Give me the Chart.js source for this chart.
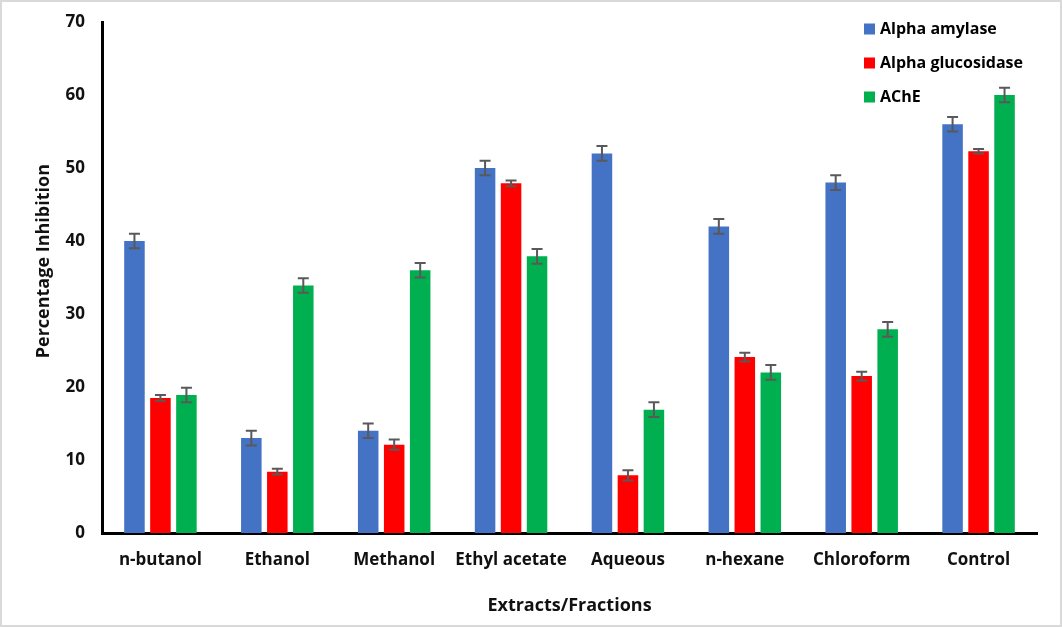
<!DOCTYPE html>
<html lang="en">
<head>
  <meta charset="UTF-8">
  <title>Percentage Inhibition</title>
  <script src="https://cdn.jsdelivr.net/npm/chart.js"></script>
  <style>
    body {
      margin: 0;
      background: #fff;
    }
    .wrap {
      position: relative;
      width: 1062px;
      height: 627px;
    }
    .frame {
      position: absolute;
      left: 0; top: 0; right: 0; bottom: 0;
      border: 2px solid #d9d9d9;
      pointer-events: none;
    }
  </style>
</head>
<body>
  <div class="wrap">
    <canvas id="chartCanvas" width="1062" height="627"></canvas>
    <div class="frame"></div>
  </div>

  <script>
    const categories = ['n-butanol', 'Ethanol', 'Methanol', 'Ethyl acetate', 'Aqueous', 'n-hexane', 'Chloroform', 'Control'];
    const seriesNames = ['Alpha amylase', 'Alpha glucosidase', 'AChE'];
    const amylase = [40, 13, 14, 50, 52, 42, 48, 56];
    const glucosidase = [18.5, 8.4, 12.1, 47.9, 7.9, 24.1, 21.5, 52.3];
    const ache = [18.9, 33.9, 36, 37.9, 16.9, 22, 27.9, 60];
    const amylaseErr = [1, 1, 1, 1, 1, 1, 1, 1];
    const glucosidaseErr = [0.4, 0.4, 0.7, 0.4, 0.7, 0.6, 0.6, 0.3];
    const acheErr = [1, 1, 1, 1, 1, 1, 1, 1];
    const yTicks = [0, 10, 20, 30, 40, 50, 60, 70];

    const FONT = "'Open Sans', sans-serif";

    // error bars, drawn from the data through the y scale
    const errorBars = {
      id: 'errorBars',
      afterDatasetsDraw(chart) {
        const ctx = chart.ctx;
        const y = chart.scales.y;
        ctx.save();
        ctx.strokeStyle = '#595959';
        ctx.lineWidth = 2;
        chart.data.datasets.forEach((ds, i) => {
          const meta = chart.getDatasetMeta(i);
          meta.data.forEach((bar, j) => {
            const v = ds.data[j];
            const e = ds.errors[j];
            const top = y.getPixelForValue(v + e);
            const bot = y.getPixelForValue(v - e);
            const x = bar.x;
            ctx.beginPath();
            ctx.moveTo(x, top); ctx.lineTo(x, bot);
            ctx.moveTo(x - 5.5, top); ctx.lineTo(x + 5.5, top);
            ctx.moveTo(x - 5.5, bot); ctx.lineTo(x + 5.5, bot);
            ctx.stroke();
          });
        });
        ctx.restore();
      }
    };

    // vertical legend in the top right of the plot
    const cornerLegend = {
      id: 'cornerLegend',
      afterDraw(chart) {
        const ctx = chart.ctx;
        ctx.save();
        ctx.font = 'bold 16px ' + FONT;
        ctx.textBaseline = 'middle';
        chart.data.datasets.forEach((ds, i) => {
          const cy = 29 + i * 34;
          ctx.fillStyle = ds.backgroundColor;
          ctx.fillRect(864, cy - 5.5, 11, 11);
          ctx.fillStyle = '#000';
          ctx.fillText(ds.label, 880, cy);
        });
        ctx.restore();
      }
    };

    const chart = new Chart(document.getElementById('chartCanvas').getContext('2d'), {
      type: 'bar',
      data: {
        labels: categories,
        datasets: [
          { label: seriesNames[0], data: amylase, errors: amylaseErr, backgroundColor: '#4472c4' },
          { label: seriesNames[1], data: glucosidase, errors: glucosidaseErr, backgroundColor: '#ff0000' },
          { label: seriesNames[2], data: ache, errors: acheErr, backgroundColor: '#00b050' }
        ]
      },
      options: {
        responsive: false,
        animation: false,
        datasets: {
          bar: { categoryPercentage: 0.667, barPercentage: 0.79 }
        },
        layout: { padding: { left: 0, right: 25, top: 22, bottom: 0 } },
        plugins: {
          legend: { display: false },
          tooltip: { enabled: false }
        },
        scales: {
          x: {
            grid: { display: false, drawTicks: false },
            border: { display: true, color: '#000', width: 3 },
            ticks: { color: '#111', font: { family: FONT, size: 17, weight: 'bold' }, padding: 17, maxRotation: 0 },
            title: { display: true, text: 'Extracts/Fractions', color: '#111', font: { family: FONT, size: 18, weight: 'bold' }, padding: { bottom: 10 } },
            afterFit(scale) { scale.height = 94; }
          },
          y: {
            min: 0,
            max: 70,
            afterBuildTicks(scale) { scale.ticks = yTicks.map(v => ({ value: v })); },
            grid: { display: false, drawTicks: false },
            border: { display: true, color: '#000', width: 3 },
            ticks: { color: '#111', font: { family: FONT, size: 17, weight: 'bold' }, padding: 17 },
            title: { display: true, text: '       Percentage Inhibition', color: '#111', font: { family: FONT, size: 18, weight: 'bold' }, padding: { top: 33 } },
            afterFit(scale) {
              scale.width = 102;
              scale.paddingTop = 0;
              scale.paddingBottom = 0;
            }
          }
        }
      },
      plugins: [errorBars, cornerLegend]
    });
  </script>
</body>
</html>
